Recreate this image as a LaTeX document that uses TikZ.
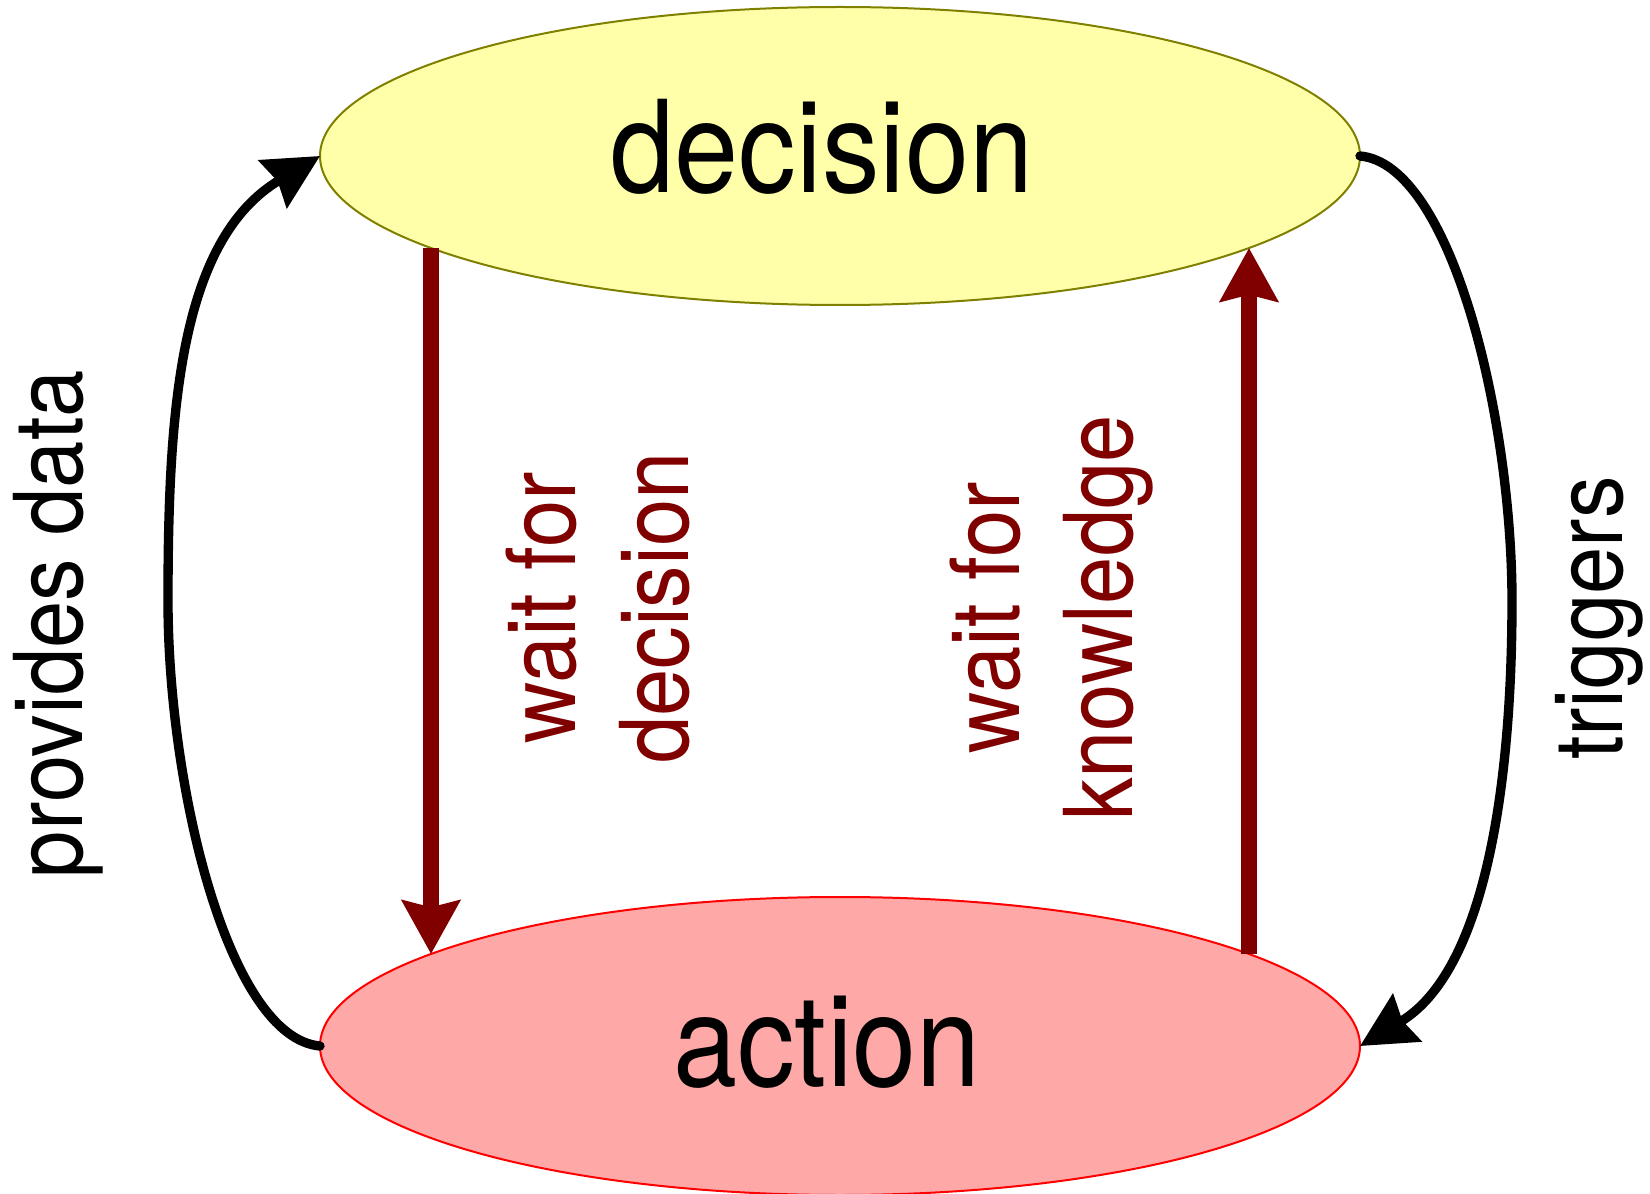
\documentclass[tikz,border=0pt]{standalone}
\usepackage{fontspec}
\setmainfont{TeX Gyre Heros}
\usetikzlibrary{shapes.geometric,arrows.meta}

\begin{document}
\begin{tikzpicture}[x=0.75pt,y=0.75pt,yscale=-1,xscale=1,
	state/.style={ellipse, draw, line width=1.5pt, inner sep=0pt, outer sep=0pt, minimum width=780pt, minimum height=223.5pt},
	biglabel/.style={anchor=base, xscale=0.9, font=\fontsize{96}{115}\selectfont},
	sidelabel/.style={rotate=90, xscale=0.895, align=center, font=\fontsize{71.25}{84.75}\selectfont},
	feedback/.style={line width=7pt, line cap=round, -{Stealth[length=41pt,width=41pt,inset=4pt]}},
	waitline/.style={draw={rgb, 255:red, 128; green, 0; blue, 0 }, line width=11.5pt, -{Stealth[length=40pt,width=43pt,inset=5pt]}}
	]
	\useasboundingbox (0,0) rectangle (1650,1194);
	
	%Shape: Ellipse [decision]
	\node [state, fill={rgb, 255:red, 255; green, 255; blue, 170 }, draw={rgb, 255:red, 128; green, 128; blue, 0 }] (decision) at (840,156) {};
	%Shape: Ellipse [action]
	\node [state, fill={rgb, 255:red, 255; green, 168; blue, 168 }, draw={rgb, 255:red, 255; green, 0; blue, 0 }] (action) at (840,1046) {};
	
	%Curve: provides data
	\coordinate (leftbend) at (168,601);
	\draw [feedback] (action.west) .. controls +(-91,-8) and +(0,188) .. (leftbend) .. controls +(0,-188) and +(-141,84) .. (decision.west);
	%Curve: triggers
	\coordinate (rightbend) at (1512,601);
	\draw [feedback] (decision.east) .. controls +(91,8) and +(0,-185) .. (rightbend) .. controls +(0,185) and +(125,-75) .. (action.east);
	%Straight Lines: wait
	\draw [waitline] ([shift={(-409,92)}]decision.center) -- ([shift={(-409,-92)}]action.center);
	\draw [waitline] ([shift={(409,-92)}]action.center) -- ([shift={(409,92)}]decision.center);
	
	% Text Node
	\node [biglabel] (decisiontext) at (822,193) {decision};
	% Text Node
	\node [biglabel] (actiontext) at (827,1086) {action};
	% Text Node
	\node [sidelabel, anchor=base] (providestext) at (82.5,624) {provides data};
	% Text Node
	\node [sidelabel, anchor=base] (triggerstext) at (1622,618) {triggers};
	% Text Node
	\node [sidelabel, text={rgb, 255:red, 128; green, 0; blue, 0 }] (waitdecisiontext) at (598,608) {wait for\\decision};
	% Text Node
	\node [sidelabel, text={rgb, 255:red, 128; green, 0; blue, 0 }] (waitknowledgetext) at (1052,618) {wait for\\knowledge};
	
\end{tikzpicture}
\end{document}
